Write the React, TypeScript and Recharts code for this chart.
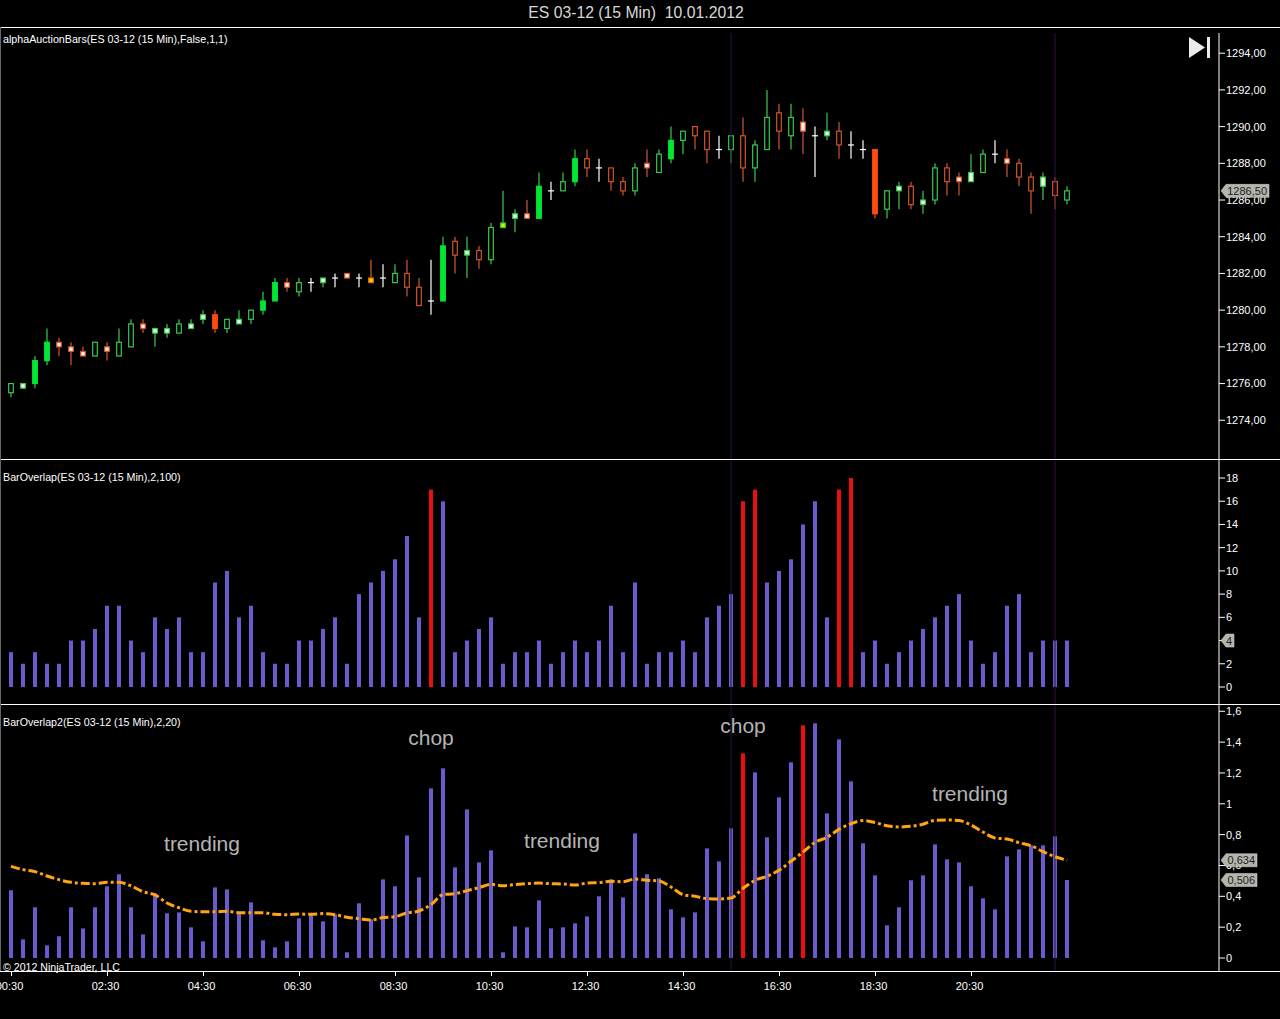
import React from 'react';
import { ComposedChart, Bar, Line, XAxis, YAxis, Cell, ReferenceLine, ReferenceDot } from 'recharts';

const opens = [1275.5,1275.75,1276,1277.25,1278.25,1278,1277.75,1277.5,1278,1277.5,1278,1279.25,1278.75,1278.75,1278.75,1279,1279.5,1279.75,1279,1279.25,1279.5,1280,1280.5,1281.5,1281,1281.5,1281.5,1281.75,1282,1281.75,1281.75,1281.75,1281.5,1282,1281.25,1280.5,1280.5,1283.75,1283,1283.25,1282.75,1284.5,1285,1285.25,1285,1286.5,1286.5,1287,1288.25,1287.75,1287.75,1287,1286.5,1288,1287.5,1288.25,1289.25,1290,1289.75,1288.75,1288.75,1289.5,1287.75,1288.75,1290.75,1289.5,1290.25,1289.5,1289.5,1289.75,1289,1288.75,1288.75,1285.5,1286.5,1286.75,1285.75,1286,1287.75,1287.25,1287,1287.5,1288.5,1288.25,1288,1287.25,1286.75,1287,1286];
const highs = [1276,1276,1277.5,1279,1278.5,1278.25,1278,1278.25,1278.25,1279,1279.5,1279.5,1279,1279.25,1279.5,1279.5,1280,1280,1279.5,1280,1280,1281,1281.75,1281.75,1281.75,1281.75,1281.75,1282,1282,1282,1282.75,1282.5,1282.5,1282.75,1281.75,1282.75,1284,1284,1284,1283.5,1284.75,1286.5,1285.5,1286,1287.5,1287,1287.5,1288.75,1288.75,1288.25,1287.75,1287.25,1288,1288.75,1288.75,1290,1289.75,1290,1289.75,1289.5,1289.5,1290.5,1289.25,1292,1291.25,1291.25,1291,1290,1290.75,1290.25,1289.75,1289.25,1288.75,1286.5,1287,1287,1286.5,1288,1288,1287.5,1288.5,1288.75,1289.25,1288.75,1288.25,1287.5,1287.5,1287.25,1286.75];
const lows = [1275.25,1275.75,1275.75,1277,1277.5,1277,1277.5,1277.5,1277.25,1277.5,1278,1278.75,1278,1278.5,1278.75,1279,1279.25,1278.75,1278.75,1279.25,1279.25,1279.75,1280.5,1281,1280.75,1281,1281.25,1281.25,1281.75,1281.25,1281.5,1281.25,1281.5,1280.75,1280.25,1279.75,1280.5,1282,1281.75,1282.25,1282.5,1284.5,1284.25,1285,1285,1286,1286.5,1286.75,1287.25,1287,1286.5,1286.25,1286.25,1287.25,1287.5,1288,1288.5,1288.75,1288,1288.25,1288,1287,1287,1288.75,1288.75,1288.75,1288.5,1287.25,1289.25,1288.25,1288.25,1288.25,1285,1285,1285.5,1285.5,1285.25,1285.75,1286.25,1286.25,1287,1287.5,1288,1287.25,1286.75,1285.25,1286,1285.5,1285.75];
const closes = [1276,1276,1277.25,1278.25,1278,1277.75,1277.5,1278.25,1277.75,1278.25,1279.25,1279,1279,1279,1279.25,1279.25,1279.75,1279,1279.5,1279.5,1280,1280.5,1281.5,1281.25,1281.5,1281.5,1281.75,1281.75,1281.75,1281.75,1281.5,1281.75,1282,1281.25,1280.25,1280.5,1283.5,1283,1283.25,1282.75,1284.5,1284.75,1285.25,1285,1286.75,1286.5,1287,1288.25,1287.75,1287.75,1287,1286.5,1287.75,1287.75,1288.5,1289.25,1289.75,1289.5,1288.75,1288.75,1289.5,1287.75,1289,1290.5,1289.75,1290.5,1289.75,1289.5,1289.75,1289,1289,1288.75,1285.25,1286.5,1286.75,1285.75,1286,1287.75,1287,1287,1287.5,1288.5,1288.5,1288,1287.25,1286.5,1287.25,1286.25,1286.5];
// h hollow, f filled, s small light body, d doji, y yellow small, l lime small
const candleStyles = ('hsffssshsh' + 'hssshssfhs' + 'hffshdsdsd' + 'ydhhhdfhsh' + 'hlssfdhfhd' + 'hhhshfhhhd' + 'hhhhhhsdsh' + 'ddfhshshhs' + 'shdshhshh').split('');
const overlapValues = [3,2,3,2,2,4,4,5,7,7,4,3,6,5,6,3,3,9,10,6,7,3,2,2,4,4,5,6,2,8,9,10,11,13,6,17,16,3,4,5,6,2,3,3,4,2,3,4,3,4,7,3,9,2,3,3,4,3,6,7,8,16,17,9,10,11,14,16,6,17,18,3,4,2,3,4,5,6,7,8,4,2,3,7,8,3,4,4,4];
const overlapRed = [35,61,62,69,70];
const overlap2Values = [.439,.121,.329,.082,.141,.329,.192,.329,.465,.543,.329,.153,.419,.29,.296,.199,.108,.458,.445,.296,.361,.115,.069,.108,.257,.283,.238,.283,.037,.355,.251,.51,.465,.795,.523,1.1,1.23,.588,.964,.62,.698,.037,.205,.199,.374,.192,.199,.225,.27,.4,.51,.393,.808,.543,.517,.316,.264,.296,.711,.627,.841,1.327,1.204,.783,1.042,1.269,1.509,1.522,.938,1.418,1.146,.744,.536,.212,.329,.504,.536,.737,.64,.62,.465,.387,.316,.659,.705,.731,.731,.789,.506];
const overlap2Red = [61,66];
const averageValues = [.594,.573,.56,.532,.508,.491,.484,.482,.491,.491,.467,.43,.409,.357,.326,.303,.3,.3,.303,.294,.294,.294,.283,.281,.285,.283,.288,.281,.264,.255,.246,.262,.268,.292,.305,.346,.411,.417,.437,.456,.478,.469,.476,.482,.486,.482,.48,.473,.486,.489,.497,.495,.512,.504,.499,.46,.411,.4,.385,.383,.389,.452,.504,.53,.569,.627,.687,.75,.783,.834,.871,.891,.878,.858,.85,.854,.867,.893,.895,.891,.863,.817,.778,.772,.748,.728,.69,.657,.634];
const priceTicks = [1274,1276,1278,1280,1282,1284,1286,1288,1290,1292,1294];
const overlapTicks = [0,2,4,6,8,10,12,14,16,18];
const overlap2Ticks = [0,.2,.4,.6,.8,1,1.2,1.4,1.6];
const timeTickIndexes = [0,8,16,24,32,40,48,56,64,72,80];
const timeTickLabels = ['00:30','02:30','04:30','06:30','08:30','10:30','12:30','14:30','16:30','18:30','20:30'];
const sessionBreaks = [60,87];

const FONT = '"Liberation Sans", Arial, sans-serif';
const X_DOMAIN = [-11 / 12, (1219 - 11) / 12];
const BG = '#000';
const BREAK = '#2e1040';
const PRICE_DOMAIN = [1271.89, 1295.1];
const OVERLAP_DOMAIN = [-1.464, 19.55];
const OVERLAP2_DOMAIN = [-0.0843, 1.6407];

const priceData = opens.map((o, i) => ({ idx: i, range: [lows[i], highs[i]], open: o, close: closes[i], style: candleStyles[i], high: highs[i], low: lows[i] }));
const overlapData = overlapValues.map((v, i) => ({ idx: i, value: v }));
const overlap2Data = overlap2Values.map((v, i) => ({ idx: i, value: v, avg: averageValues[i] }));

const Candle = (props: any) => {
  const { x, y, width, height, payload } = props;
  const { open, close, high, low, style } = payload;
  const cx = x + width / 2 + 0.5;
  const py = (p: number) => y + ((high - p) / (high - low)) * height;
  const up = close >= open;
  const top = py(Math.max(open, close));
  const bot = py(Math.min(open, close));
  let wick = up ? '#3cc850' : '#d05530';
  let fill = BG;
  let stroke = wick;
  if (style === 'd') { wick = '#ffffff'; stroke = '#ffffff'; }
  if (style === 'f') { fill = up ? '#00e632' : '#ff4a10'; stroke = fill; wick = up ? '#30d040' : '#e8501c'; }
  if (style === 's') { fill = up ? '#e8ffe8' : '#fff0e4'; }
  if (style === 'y') { fill = '#ffd010'; stroke = '#e06a10'; wick = '#d8601c'; }
  if (style === 'l') { fill = '#b0ff10'; stroke = '#50c010'; wick = '#3cc850'; }
  return (
    <g>
      <line x1={cx} x2={cx} y1={y} y2={y + height} stroke={wick} strokeWidth={1.2} />
      {style === 'd' ? (
        <line x1={cx - 3} x2={cx + 3} y1={top} y2={top} stroke="#ffffff" strokeWidth={1.2} />
      ) : (
        <rect x={cx - 2.3} y={top} width={4.6} height={Math.max(bot - top, 3)} fill={fill} stroke={stroke} strokeWidth={1.2} />
      )}
    </g>
  );
};

const makeTag = (label: string, w: number) => (props: any) => {
  const { cy } = props;
  const x0 = 1221;
  return (
    <g>
      <polygon points={`${x0},${cy} ${x0 + 5},${cy - 6.5} ${x0 + w},${cy - 6.5} ${x0 + w},${cy + 6.5} ${x0 + 5},${cy + 6.5}`} fill="#b4b4ac" stroke="#d8d8d0" strokeWidth={0.5} />
      <text x={x0 + w - 2} y={cy + 4} textAnchor="end" fontSize={11} fontFamily={FONT} fill="#222">{label}</text>
    </g>
  );
};

const TimeTick = (props: any) => {
  const { x, y, payload } = props;
  const i = timeTickIndexes.indexOf(payload.value);
  return (
    <g>
      <line x1={x} x2={x} y1={y - 8} y2={y - 3} stroke="#fff" shapeRendering="crispEdges" />
      <text x={x - 1.5} y={y + 11} textAnchor="middle" fontSize={11} fontFamily={FONT} fill="#fff">{timeTickLabels[i]}</text>
    </g>
  );
};

const fmt = (v: number) => String(v).replace('.', ',');
const fmtPrice = (v: number) => v.toFixed(2).replace('.', ',');
const yTick = { fill: '#ffffff', fontSize: 11, fontFamily: FONT };

const Rule = ({ y }: { y: number }) => (
  <div style={{ position: 'absolute', left: 0, top: y, width: 1280, height: 1, background: '#fff' }} />
);
const Caption = ({ x, y, size, children }: any) => (
  <div style={{ position: 'absolute', left: x, top: y, fontFamily: FONT, fontSize: size, lineHeight: '12px', color: '#fff', whiteSpace: 'nowrap' }}>{children}</div>
);
const Note = ({ cx, cy, children }: any) => (
  <div style={{ position: 'absolute', left: cx - 60, width: 120, textAlign: 'center', top: cy - 14, fontFamily: FONT, fontSize: 21, lineHeight: '28px', color: '#b4b4b4' }}>{children}</div>
);
const panel = (top: number): React.CSSProperties => ({ position: 'absolute', left: 0, top });

// Second transparent layer with the same scales, so that the value tags cover the axis labels.
const TagLayer = ({ top, height, marginTop, bottom, domain, data, tags }: any) => (
  <div style={panel(top)}>
    <ComposedChart width={1280} height={height} data={data} margin={{ top: marginTop, right: 61, bottom, left: 0 }}>
      <XAxis dataKey="idx" type="number" domain={X_DOMAIN} allowDataOverflow hide />
      <YAxis hide width={0} domain={domain} allowDataOverflow />
      {tags.map((t: any) => (
        <ReferenceDot key={t.label} x={X_DOMAIN[1]} y={t.value} ifOverflow="visible" shape={makeTag(t.label, t.w)} />
      ))}
    </ComposedChart>
  </div>
);

export default function App() {
  return (
    <div style={{ position: 'absolute', left: 0, top: 0, width: 1280, height: 1019, background: BG, overflow: 'hidden' }}>
      <div style={{ position: 'absolute', left: 0, width: 1272, textAlign: 'center', top: 4, fontFamily: FONT, fontSize: 15.75, lineHeight: '18px', color: '#d8d8d8', whiteSpace: 'pre' }}>ES 03-12 (15 Min)  10.01.2012</div>

      <div style={panel(28)}>
        <ComposedChart width={1280} height={431} data={priceData} margin={{ top: 5, right: 0, bottom: 0, left: 0 }}>
          <XAxis dataKey="idx" type="number" domain={X_DOMAIN} allowDataOverflow hide />
          <YAxis orientation="right" width={61} domain={PRICE_DOMAIN} allowDataOverflow ticks={priceTicks} interval={0} tickFormatter={fmtPrice} tick={yTick} stroke="#fff" tickSize={6} tickMargin={1} />
          {sessionBreaks.map((b) => <ReferenceLine key={b} x={b} stroke={BREAK} />)}
          <Bar dataKey="range" barSize={7} isAnimationActive={false} shape={<Candle />} />
        </ComposedChart>
      </div>
      <TagLayer top={28} height={431} marginTop={5} bottom={0} domain={PRICE_DOMAIN} data={priceData} tags={[{ label: '1286,50', value: 1286.5, w: 48 }]} />

      <div style={panel(460)}>
        <ComposedChart width={1280} height={244} data={overlapData} margin={{ top: 0, right: 0, bottom: 0, left: 0 }}>
          <XAxis dataKey="idx" type="number" domain={X_DOMAIN} allowDataOverflow hide />
          <YAxis orientation="right" width={61} domain={OVERLAP_DOMAIN} allowDataOverflow ticks={overlapTicks} interval={0} tickFormatter={fmt} tick={yTick} stroke="#fff" tickSize={6} tickMargin={1} />
          {sessionBreaks.map((b) => <ReferenceLine key={b} x={b} stroke={BREAK} />)}
          <Bar dataKey="value" barSize={4} isAnimationActive={false}>
            {overlapData.map((d) => <Cell key={d.idx} fill={overlapRed.includes(d.idx) ? '#e80f0f' : '#6a5acd'} />)}
          </Bar>
        </ComposedChart>
      </div>
      <TagLayer top={460} height={244} marginTop={0} bottom={0} domain={OVERLAP_DOMAIN} data={overlapData} tags={[{ label: '4', value: 4, w: 13 }]} />

      <div style={panel(705)}>
        <ComposedChart width={1280} height={314} data={overlap2Data} margin={{ top: 0, right: 0, bottom: 0, left: 0 }}>
          <XAxis dataKey="idx" type="number" domain={X_DOMAIN} allowDataOverflow ticks={timeTickIndexes} interval={0} height={48} tick={<TimeTick />} tickLine={false} axisLine={false} />
          <YAxis orientation="right" width={61} domain={OVERLAP2_DOMAIN} allowDataOverflow ticks={overlap2Ticks} interval={0} tickFormatter={fmt} tick={yTick} stroke="#fff" tickSize={6} tickMargin={1} />
          {sessionBreaks.map((b) => <ReferenceLine key={b} x={b} stroke={BREAK} />)}
          <Bar dataKey="value" barSize={4} isAnimationActive={false}>
            {overlap2Data.map((d) => <Cell key={d.idx} fill={overlap2Red.includes(d.idx) ? '#f00c0c' : '#6a5acd'} />)}
          </Bar>
          <Line dataKey="avg" type="monotone" stroke="#ffa510" strokeWidth={3} strokeDasharray="9 3 3 3" dot={false} isAnimationActive={false} />
        </ComposedChart>
      </div>
      <TagLayer top={705} height={314} marginTop={0} bottom={48} domain={OVERLAP2_DOMAIN} data={overlap2Data} tags={[{ label: '0,634', value: 0.634, w: 36 }, { label: '0,506', value: 0.506, w: 36 }]} />

      <Rule y={27} />
      <Rule y={459} />
      <Rule y={704} />
      <Rule y={971} />
      <div style={{ position: 'absolute', left: 0, top: 27, width: 1, height: 944, background: '#666' }} />

      <Caption x={3} y={33} size={10.7}>alphaAuctionBars(ES 03-12 (15 Min),False,1,1)</Caption>
      <Caption x={3} y={471} size={10.7}>BarOverlap(ES 03-12 (15 Min),2,100)</Caption>
      <Caption x={3} y={716} size={10.7}>BarOverlap2(ES 03-12 (15 Min),2,20)</Caption>
      <Caption x={3} y={961} size={10.6}>© 2012 NinjaTrader, LLC</Caption>

      <Note cx={202} cy={844}>trending</Note>
      <Note cx={431} cy={738}>chop</Note>
      <Note cx={743} cy={726}>chop</Note>
      <Note cx={562} cy={841}>trending</Note>
      <Note cx={970} cy={794}>trending</Note>

      <svg style={{ position: 'absolute', left: 1189, top: 37 }} width={22} height={22}>
        <polygon points="0,0 16,10.5 0,21" fill="#ececec" />
        <rect x={18} y={0} width={3} height={21} fill="#ececec" />
      </svg>
    </div>
  );
}
